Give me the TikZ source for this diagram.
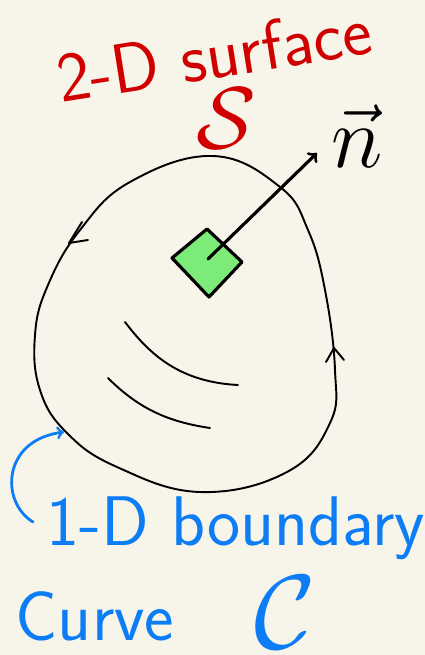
\documentclass[tikz,border=0pt]{standalone}
\usepackage{fix-cm}
\usepackage{amsmath,amssymb}
\usetikzlibrary{arrows,positioning,calc}
\definecolor{paper}{RGB}{247,245,234}
\definecolor{inkred}{RGB}{208,0,0}
\definecolor{inkblue}{RGB}{12,125,245}
\definecolor{patchgreen}{RGB}{125,235,120}

\begin{document}
\begin{tikzpicture}[x=0.02cm,y=-0.02cm,line cap=round,line join=round,
    pen/.style={black,line width=1.1pt},
    bigpen/.style={black,line width=1.8pt},
    hand/.style={inner sep=0pt,font=\fontsize{40}{46}\selectfont\sffamily},
    bighand/.style={inner sep=0pt,font=\fontsize{50}{56}\selectfont}]
    \fill[paper] (0,0) rectangle (425,655);
    \useasboundingbox (0,0) rectangle (425,655);
    % boundary curve
    \draw[pen] plot[smooth cycle,tension=0.7] coordinates {(213,156) (280,187) (308,230) (325,290) (335,370) (330,423) (287,472) (200,492) (117,467) (67,433) (40,390) (35,335) (48,285) (80,230) (130,182)};
    \draw[pen] (82,222) -- (69,243) -- (88,240);
    \draw[pen] (326,362) -- (334,348) -- (344,360);
    % shading strokes
    \draw[pen] (125,322) .. controls (150,355) and (180,382) .. (238,385);
    \draw[pen] (108,378) .. controls (140,410) and (170,422) .. (210,428);
    % surface patch and normal
    \draw[bigpen,fill=patchgreen] (207,229) -- (242,262) -- (209,297) -- (172,258) -- cycle;
    \coordinate (patch) at (208,259);
    \coordinate (tip) at (317,153);
    \draw[bigpen,->,>=to] (patch) -- (tip);
    \node[bighand] (normal) at (357,136) {$\vec{n}$};
    % labels
    \node[hand,inkred,rotate=9] (surf) at (214,54) {2-D surface};
    \node[bighand,inkred] (surfS) at (226,118) {$\mathcal{S}$};
    \node[hand,inkblue] (bnd) at (236,528) {1-D boundary};
    \node[hand,inkblue] (crv) at (95,616) {Curve};
    \node[bighand,inkblue,font=\fontsize{60}{66}\selectfont] (crvC) at (285,612) {$\mathcal{C}$};
    \coordinate (tail) at (33,522);
    \draw[inkblue,line width=1.6pt,->,>=to] (tail) .. controls (0,502) and (2,440) .. (64,432);
\end{tikzpicture}
\end{document}
